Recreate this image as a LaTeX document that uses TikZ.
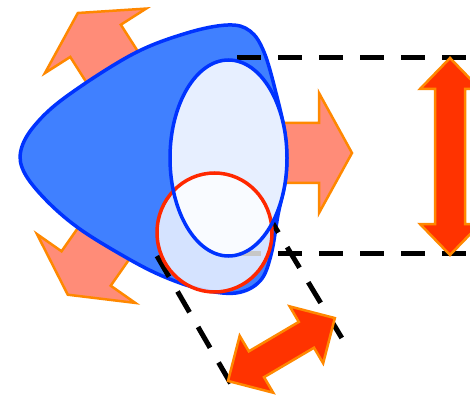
\documentclass[tikz,border=0pt]{standalone}
\usepackage{tikz}
\usepackage{xcolor}

\definecolor{pushfill}{RGB}{255,140,120}
\definecolor{pushline}{RGB}{255,136,0}
\definecolor{bodyfill}{RGB}{64,128,255}
\definecolor{bodyline}{RGB}{0,51,255}
\definecolor{rimline}{RGB}{255,40,0}
\definecolor{sizefill}{RGB}{255,51,0}

\begin{document}
\begin{tikzpicture}[
    x=1pt, y=-1pt,
    pushArrow/.style={fill=pushfill, draw=pushline, line width=2.5pt},
    body/.style={fill=bodyfill, draw=bodyline, line width=3.5pt},
    lens/.style={fill=white, fill opacity=0.88},
    rim/.style={fill=white, fill opacity=0.78, draw=rimline, line width=3.5pt},
    guide/.style={draw=black, line width=5pt, dash pattern=on 24pt off 17pt},
    sizeArrow/.style={fill=sizefill, draw=pushline, line width=2.5pt}
]

\useasboundingbox (0,0) rectangle (470,395);
\clip (0,0) rectangle (470,395);

\coordinate (centre) at (167,153);

% three push arrows behind the body
\draw[pushArrow, shift={(centre)}]
    (0,-30) -- (152,-30) -- (152,-60) -- (185,0) -- (152,60) -- (152,30) -- (0,30) -- cycle;
\draw[pushArrow, shift={(centre)}, rotate=122.5]
    (0,-30) -- (133,-30) -- (133,-60) -- (166,0) -- (133,60) -- (133,30) -- (0,30) -- cycle;
\draw[pushArrow, shift={(centre)}, rotate=235]
    (0,-30) -- (141,-30) -- (141,-60) -- (173,0) -- (141,60) -- (141,30) -- (0,30) -- cycle;

% body
\draw[body] plot[smooth cycle, tension=0.6] coordinates {
    (21,150) (35,125) (67,96) (133,54) (187,33) (228,25) (250,31)
    (264,52) (276,93) (285,135) (286,175) (278,215) (271,255)
    (260,281) (236,293) (200,289) (160,275) (120,254) (77,227)
    (45,199) (24,172)};

% size guides
\draw[guide] (237,57.5) -- (470,57.5);
\draw[guide] (237,253) -- (470,253);
\draw[guide] (157,256) -- (231,384);
\draw[guide] (266,212) -- (343,340);

% lens and rim
\path[lens] (228.5,158) ellipse [x radius=58.5, y radius=98];
\draw[rim] (214.5,232.5) ellipse [x radius=57.5, y radius=59.5];
\draw[draw=bodyline, line width=3.5pt] (228.5,158) ellipse [x radius=58.5, y radius=98];

% size arrows
\draw[sizeArrow]
    (450,58) -- (480,89) -- (465,89) -- (465,224) -- (480,224) -- (450,255)
    -- (420,224) -- (435,224) -- (435,89) -- (420,89) -- cycle;
\draw[sizeArrow, shift={(228,381)}, rotate=30.5]
    (0,0) -- (33,-33) -- (33,-15) -- (91,-15) -- (91,-33) -- (124,0)
    -- (91,33) -- (91,15) -- (33,15) -- (33,33) -- cycle;

\end{tikzpicture}
\end{document}
